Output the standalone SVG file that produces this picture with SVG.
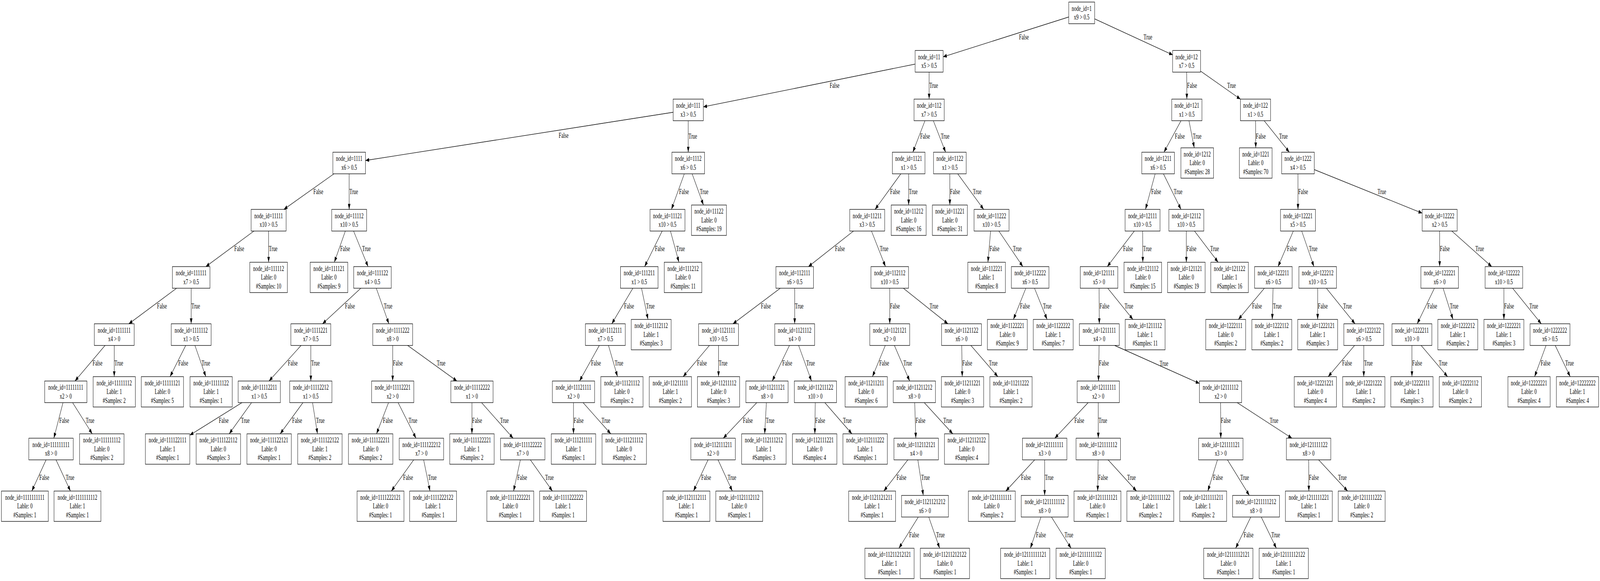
<svg xmlns="http://www.w3.org/2000/svg" width="6177" height="1488" viewBox="0 0 6177 1488" preserveAspectRatio="none">
<defs>
<marker id="ah" viewBox="0 0 14 10" refX="14" refY="5" markerWidth="14" markerHeight="10" markerUnits="userSpaceOnUse" orient="auto"><path d="M0,0L14,5L0,10z" fill="#000"/></marker>
</defs>
<style>
svg{width:100vw;height:100vh}
text{font-family:"Liberation Serif","Times New Roman",serif;font-size:18px;fill:#000}
.n rect{fill:#fff;stroke:#000;stroke-width:1.33}
.n text{text-anchor:middle}
#edges line{stroke:#000;stroke-width:1.33;marker-end:url(#ah)}
</style>
<rect x="0" y="0" width="6177" height="1488" fill="#fff"/>
<g id="edges">
<line x1="4176" y1="33" x2="3641" y2="145.6"/><text x="3934" y="101">False</text>
<line x1="4176" y1="33" x2="4527.5" y2="140.6"/><text x="4415" y="101">True</text>
<line x1="3587" y1="157" x2="2715.3" y2="273.7"/><text x="3203" y="225.3">False</text>
<line x1="3587" y1="157" x2="3587" y2="253.8"/><text x="3588" y="225.3">True</text>
<line x1="4581" y1="157" x2="4582" y2="253.8"/><text x="4583" y="225.3">False</text>
<line x1="4581" y1="157" x2="4789" y2="254"/><text x="4738" y="225.3">True</text>
<line x1="2657" y1="281.5" x2="1411" y2="411"/><text x="2157" y="353">False</text>
<line x1="2657" y1="281.5" x2="2657" y2="389.8"/><text x="2658" y="355.5">True</text>
<line x1="3587" y1="281.5" x2="3524.1" y2="389.8"/><text x="3552.5" y="355.5">False</text>
<line x1="3587" y1="281.5" x2="3650.7" y2="389.8"/><text x="3632" y="355.5">True</text>
<line x1="4582" y1="281.5" x2="4493.6" y2="389.8"/><text x="4536" y="355.5">False</text>
<line x1="4582" y1="281.5" x2="4610.6" y2="378.6"/><text x="4605" y="355.5">True</text>
<line x1="4847" y1="281.5" x2="4848" y2="378.6"/><text x="4848.5" y="355.5">False</text>
<line x1="4847" y1="281.5" x2="4977.6" y2="389.8"/><text x="4938" y="355.5">True</text>
<line x1="1348" y1="417.5" x2="1095.8" y2="536.3"/><text x="1210" y="496.8">False</text>
<line x1="1348" y1="417.5" x2="1348" y2="536.3"/><text x="1349" y="496.8">True</text>
<line x1="2657" y1="417.5" x2="2592.1" y2="536.3"/><text x="2621.6" y="496.8">False</text>
<line x1="2657" y1="417.5" x2="2715.8" y2="525.1"/><text x="2701.6" y="496.8">True</text>
<line x1="3508" y1="417.5" x2="3378.3" y2="536.3"/><text x="3436.6" y="496.8">False</text>
<line x1="3508" y1="417.5" x2="3508" y2="525.1"/><text x="3509" y="496.8">True</text>
<line x1="3667" y1="417.5" x2="3667" y2="525.1"/><text x="3668" y="496.8">False</text>
<line x1="3667" y1="417.5" x2="3797.6" y2="536.3"/><text x="3756" y="496.8">True</text>
<line x1="4471" y1="417.5" x2="4422.3" y2="536.3"/><text x="4444.6" y="496.8">False</text>
<line x1="4471" y1="417.5" x2="4559.4" y2="536.3"/><text x="4531.5" y="496.8">True</text>
<line x1="5011" y1="417.5" x2="5011" y2="536.3"/><text x="5012" y="496.8">False</text>
<line x1="5011" y1="417.5" x2="5490.5" y2="545.9"/><text x="5318" y="496.8">True</text>
<line x1="1037" y1="564" x2="794.5" y2="682.8"/><text x="904.5" y="643.3">False</text>
<line x1="1037" y1="564" x2="1037" y2="671.6"/><text x="1038" y="643.3">True</text>
<line x1="1348" y1="564" x2="1290.7" y2="671.6"/><text x="1313.5" y="643.3">False</text>
<line x1="1348" y1="564" x2="1421" y2="682.8"/><text x="1398" y="643.3">True</text>
<line x1="2577" y1="564" x2="2488.6" y2="682.8"/><text x="2528.5" y="643.3">False</text>
<line x1="2577" y1="564" x2="2621.1" y2="671.6"/><text x="2610.6" y="643.3">True</text>
<line x1="3348" y1="564" x2="3120.9" y2="682.8"/><text x="3223.8" y="643.3">False</text>
<line x1="3348" y1="564" x2="3418.5" y2="682.8"/><text x="3396.4" y="643.3">True</text>
<line x1="3828" y1="564" x2="3814" y2="671.6"/><text x="3820.3" y="643.3">False</text>
<line x1="3828" y1="564" x2="3948.8" y2="682.8"/><text x="3910.5" y="643.3">True</text>
<line x1="4411" y1="564" x2="4274.8" y2="682.8"/><text x="4336" y="643.3">False</text>
<line x1="4411" y1="564" x2="4412" y2="671.6"/><text x="4413" y="643.3">True</text>
<line x1="4580" y1="564" x2="4580" y2="671.6"/><text x="4581" y="643.3">False</text>
<line x1="4580" y1="564" x2="4702.7" y2="671.6"/><text x="4672.5" y="643.3">True</text>
<line x1="5011" y1="564" x2="4934" y2="682.8"/><text x="4968.8" y="643.3">False</text>
<line x1="5011" y1="564" x2="5072.6" y2="682.8"/><text x="5053" y="643.3">True</text>
<line x1="5558" y1="564" x2="5558" y2="682.8"/><text x="5559" y="643.3">False</text>
<line x1="5558" y1="564" x2="5759.1" y2="682.8"/><text x="5695.8" y="643.3">True</text>
<line x1="738" y1="710.5" x2="497.2" y2="829.3"/><text x="606.4" y="789.8">False</text>
<line x1="738" y1="710.5" x2="738" y2="829.3"/><text x="739" y="789.8">True</text>
<line x1="1438" y1="710.5" x2="1245" y2="829.3"/><text x="1332" y="789.8">False</text>
<line x1="1438" y1="710.5" x2="1501.3" y2="829.3"/><text x="1481.5" y="789.8">True</text>
<line x1="2468" y1="710.5" x2="2361.8" y2="829.3"/><text x="2409.6" y="789.8">False</text>
<line x1="2468" y1="710.5" x2="2501.8" y2="818.1"/><text x="2494" y="789.8">True</text>
<line x1="3068" y1="710.5" x2="2829.6" y2="829.3"/><text x="2937.7" y="789.8">False</text>
<line x1="3068" y1="710.5" x2="3068" y2="829.3"/><text x="3069" y="789.8">True</text>
<line x1="3435" y1="710.5" x2="3435" y2="829.3"/><text x="3436" y="789.8">False</text>
<line x1="3435" y1="710.5" x2="3659.6" y2="829.3"/><text x="3589" y="789.8">True</text>
<line x1="3977" y1="710.5" x2="3912.4" y2="818.1"/><text x="3938" y="789.8">False</text>
<line x1="3977" y1="710.5" x2="4042.4" y2="818.1"/><text x="4026.5" y="789.8">True</text>
<line x1="4243" y1="710.5" x2="4244" y2="829.3"/><text x="4245" y="789.8">False</text>
<line x1="4243" y1="710.5" x2="4373.7" y2="818.1"/><text x="4341.6" y="789.8">True</text>
<line x1="4916" y1="710.5" x2="4780.9" y2="818.1"/><text x="4834" y="789.8">False</text>
<line x1="4916" y1="710.5" x2="4911.6" y2="818.1"/><text x="4914.5" y="789.8">True</text>
<line x1="5087" y1="710.5" x2="5087" y2="818.1"/><text x="5088" y="789.8">False</text>
<line x1="5087" y1="710.5" x2="5231.3" y2="829.3"/><text x="5185.6" y="789.8">True</text>
<line x1="5558" y1="710.5" x2="5471.2" y2="829.3"/><text x="5510.4" y="789.8">False</text>
<line x1="5558" y1="710.5" x2="5609.4" y2="818.1"/><text x="5597" y="789.8">True</text>
<line x1="5806" y1="710.5" x2="5806" y2="818.1"/><text x="5807" y="789.8">False</text>
<line x1="5806" y1="710.5" x2="5950.3" y2="829.3"/><text x="5904.6" y="789.8">True</text>
<line x1="441" y1="857" x2="289.4" y2="975.8"/><text x="357.6" y="936.3">False</text>
<line x1="441" y1="857" x2="441" y2="964.6"/><text x="442" y="936.3">True</text>
<line x1="738" y1="857" x2="656.5" y2="964.6"/><text x="688.6" y="936.3">False</text>
<line x1="738" y1="857" x2="794.6" y2="964.6"/><text x="778" y="936.3">True</text>
<line x1="1200" y1="857" x2="1038.6" y2="975.8"/><text x="1111.3" y="936.3">False</text>
<line x1="1200" y1="857" x2="1200" y2="975.8"/><text x="1201" y="936.3">True</text>
<line x1="1516" y1="857" x2="1516" y2="975.8"/><text x="1517" y="936.3">False</text>
<line x1="1516" y1="857" x2="1764.1" y2="975.8"/><text x="1686.4" y="936.3">True</text>
<line x1="2337" y1="857" x2="2237.3" y2="975.8"/><text x="2282" y="936.3">False</text>
<line x1="2337" y1="857" x2="2384" y2="964.6"/><text x="2372.8" y="936.3">True</text>
<line x1="2774" y1="857" x2="2637.4" y2="964.6"/><text x="2691" y="936.3">False</text>
<line x1="2774" y1="857" x2="2774" y2="964.6"/><text x="2775" y="936.3">True</text>
<line x1="3068" y1="857" x2="2981.2" y2="975.8"/><text x="3020.4" y="936.3">False</text>
<line x1="3068" y1="857" x2="3132.9" y2="975.8"/><text x="3112.6" y="936.3">True</text>
<line x1="3435" y1="857" x2="3368.2" y2="964.6"/><text x="3394.6" y="936.3">False</text>
<line x1="3435" y1="857" x2="3512" y2="975.8"/><text x="3487.8" y="936.3">True</text>
<line x1="3712" y1="857" x2="3714.9" y2="964.6"/><text x="3715.2" y="936.3">False</text>
<line x1="3712" y1="857" x2="3852.3" y2="964.6"/><text x="3817.8" y="936.3">True</text>
<line x1="4244" y1="857" x2="4240.8" y2="975.8"/><text x="4243" y="936.3">False</text>
<line x1="4304" y1="885" x2="4630.5" y2="982"/><text x="4477" y="937">True</text>
<line x1="5265" y1="857" x2="5127.6" y2="964.6"/><text x="5181.6" y="936.3">False</text>
<line x1="5265" y1="857" x2="5265" y2="964.6"/><text x="5266" y="936.3">True</text>
<line x1="5451" y1="857" x2="5451" y2="964.6"/><text x="5452" y="936.3">False</text>
<line x1="5451" y1="857" x2="5588.4" y2="964.6"/><text x="5554.6" y="936.3">True</text>
<line x1="5984" y1="857" x2="5924.5" y2="964.6"/><text x="5948" y="936.3">False</text>
<line x1="5984" y1="857" x2="6061.9" y2="964.6"/><text x="6042.8" y="936.3">True</text>
<line x1="254" y1="1003.5" x2="207.8" y2="1122.3"/><text x="229" y="1082.8">False</text>
<line x1="254" y1="1003.5" x2="356.1" y2="1111.1"/><text x="331" y="1082.8">True</text>
<line x1="1001" y1="1003.5" x2="732.8" y2="1114.5"/><text x="844.8" y="1082.8">False</text>
<line x1="1001" y1="1003.5" x2="884.9" y2="1111.1"/><text x="930.5" y="1082.8">True</text>
<line x1="1200" y1="1003.5" x2="1081.7" y2="1111.1"/><text x="1128.2" y="1082.8">False</text>
<line x1="1200" y1="1003.5" x2="1225.7" y2="1111.1"/><text x="1220" y="1082.8">True</text>
<line x1="1516" y1="1003.5" x2="1453.6" y2="1111.1"/><text x="1478.3" y="1082.8">False</text>
<line x1="1516" y1="1003.5" x2="1606" y2="1122.3"/><text x="1577.6" y="1082.8">True</text>
<line x1="1822" y1="1003.5" x2="1822" y2="1111.1"/><text x="1823" y="1082.8">False</text>
<line x1="1822" y1="1003.5" x2="1980.9" y2="1122.3"/><text x="1930.6" y="1082.8">True</text>
<line x1="2214" y1="1003.5" x2="2214" y2="1111.1"/><text x="2215" y="1082.8">False</text>
<line x1="2214" y1="1003.5" x2="2358" y2="1111.1"/><text x="2322.6" y="1082.8">True</text>
<line x1="2961" y1="1003.5" x2="2792.3" y2="1122.3"/><text x="2868.3" y="1082.8">False</text>
<line x1="2961" y1="1003.5" x2="2952.2" y2="1111.1"/><text x="2956.6" y="1082.8">True</text>
<line x1="3148" y1="1003.5" x2="3145.8" y2="1111.1"/><text x="3147.5" y="1082.8">False</text>
<line x1="3148" y1="1003.5" x2="3289" y2="1111.1"/><text x="3254.4" y="1082.8">True</text>
<line x1="3530" y1="1003.5" x2="3535.7" y2="1122.3"/><text x="3534.8" y="1082.8">False</text>
<line x1="3530" y1="1003.5" x2="3678.4" y2="1111.1"/><text x="3642" y="1082.8">True</text>
<line x1="4240" y1="1003.5" x2="4072.1" y2="1122.3"/><text x="4147.8" y="1082.8">False</text>
<line x1="4240" y1="1003.5" x2="4240" y2="1122.3"/><text x="4241" y="1082.8">True</text>
<line x1="4712" y1="1003.5" x2="4713" y2="1122.3"/><text x="4713.5" y="1082.8">False</text>
<line x1="4712" y1="1003.5" x2="4987.7" y2="1122.3"/><text x="4901.8" y="1082.8">True</text>
<line x1="197" y1="1150" x2="122.8" y2="1257.6"/><text x="152" y="1229.3">False</text>
<line x1="197" y1="1150" x2="271.9" y2="1257.6"/><text x="253.6" y="1229.3">True</text>
<line x1="1627" y1="1150" x2="1510.9" y2="1257.6"/><text x="1556.5" y="1229.3">False</text>
<line x1="1627" y1="1150" x2="1660.1" y2="1257.6"/><text x="1652.4" y="1229.3">True</text>
<line x1="2018" y1="1150" x2="1982.7" y2="1257.6"/><text x="1997" y="1229.3">False</text>
<line x1="2018" y1="1150" x2="2132.6" y2="1257.6"/><text x="2104.4" y="1229.3">True</text>
<line x1="2753" y1="1150" x2="2677.3" y2="1257.6"/><text x="2707.2" y="1229.3">False</text>
<line x1="2753" y1="1150" x2="2827.2" y2="1257.6"/><text x="2809" y="1229.3">True</text>
<line x1="3537" y1="1150" x2="3412.1" y2="1257.6"/><text x="3461.2" y="1229.3">False</text>
<line x1="3537" y1="1150" x2="3564.6" y2="1268.8"/><text x="3556.4" y="1229.3">True</text>
<line x1="4033" y1="1150" x2="3883.2" y2="1257.6"/><text x="3942" y="1229.3">False</text>
<line x1="4033" y1="1150" x2="4033" y2="1268.8"/><text x="4034" y="1229.3">True</text>
<line x1="4240" y1="1150" x2="4237.8" y2="1257.6"/><text x="4239.5" y="1229.3">False</text>
<line x1="4240" y1="1150" x2="4387.6" y2="1257.6"/><text x="4351.5" y="1229.3">True</text>
<line x1="4713" y1="1150" x2="4663.1" y2="1257.6"/><text x="4683" y="1229.3">False</text>
<line x1="4713" y1="1150" x2="4823.3" y2="1268.8"/><text x="4788.3" y="1229.3">True</text>
<line x1="5052" y1="1150" x2="5053" y2="1257.6"/><text x="5053.5" y="1229.3">False</text>
<line x1="5052" y1="1150" x2="5202.6" y2="1257.6"/><text x="5165.7" y="1229.3">True</text>
<line x1="3571" y1="1296.5" x2="3470.4" y2="1404.1"/><text x="3510" y="1375.8">False</text>
<line x1="3571" y1="1296.5" x2="3627.6" y2="1404.1"/><text x="3614" y="1375.8">True</text>
<line x1="4033" y1="1296.5" x2="3977.9" y2="1404.1"/><text x="3999.8" y="1375.8">False</text>
<line x1="4033" y1="1296.5" x2="4135.1" y2="1404.1"/><text x="4110" y="1375.8">True</text>
<line x1="4849" y1="1296.5" x2="4770.4" y2="1404.1"/><text x="4801.4" y="1375.8">False</text>
<line x1="4849" y1="1296.5" x2="4927.6" y2="1404.1"/><text x="4908.4" y="1375.8">True</text>
</g>
<g id="nodes" class="n">
<g id="node-1"><rect x="4126" y="5.3" width="100" height="55.4"/><text x="4176" y="28">node_id=1<tspan x="4176" dy="22.3">x9 &gt; 0.5</tspan></text></g>
<g id="node-11"><rect x="3533" y="129.3" width="108" height="55.4"/><text x="3587" y="152">node_id=11<tspan x="3587" dy="22.3">x5 &gt; 0.5</tspan></text></g>
<g id="node-12"><rect x="4527" y="129.3" width="108" height="55.4"/><text x="4581" y="152">node_id=12<tspan x="4581" dy="22.3">x7 &gt; 0.5</tspan></text></g>
<g id="node-111"><rect x="2598.75" y="253.8" width="116.5" height="55.4"/><text x="2657" y="276.5">node_id=111<tspan x="2657" dy="22.3">x3 &gt; 0.5</tspan></text></g>
<g id="node-112"><rect x="3528.75" y="253.8" width="116.5" height="55.4"/><text x="3587" y="276.5">node_id=112<tspan x="3587" dy="22.3">x7 &gt; 0.5</tspan></text></g>
<g id="node-121"><rect x="4523.75" y="253.8" width="116.5" height="55.4"/><text x="4582" y="276.5">node_id=121<tspan x="4582" dy="22.3">x1 &gt; 0.5</tspan></text></g>
<g id="node-122"><rect x="4788.75" y="253.8" width="116.5" height="55.4"/><text x="4847" y="276.5">node_id=122<tspan x="4847" dy="22.3">x1 &gt; 0.5</tspan></text></g>
<g id="node-1111"><rect x="1285" y="389.8" width="126" height="55.4"/><text x="1348" y="412.5">node_id=1111<tspan x="1348" dy="22.3">x6 &gt; 0.5</tspan></text></g>
<g id="node-1112"><rect x="2594" y="389.8" width="126" height="55.4"/><text x="2657" y="412.5">node_id=1112<tspan x="2657" dy="22.3">x6 &gt; 0.5</tspan></text></g>
<g id="node-1121"><rect x="3445" y="389.8" width="126" height="55.4"/><text x="3508" y="412.5">node_id=1121<tspan x="3508" dy="22.3">x1 &gt; 0.5</tspan></text></g>
<g id="node-1122"><rect x="3604" y="389.8" width="126" height="55.4"/><text x="3667" y="412.5">node_id=1122<tspan x="3667" dy="22.3">x1 &gt; 0.5</tspan></text></g>
<g id="node-1211"><rect x="4408" y="389.8" width="126" height="55.4"/><text x="4471" y="412.5">node_id=1211<tspan x="4471" dy="22.3">x6 &gt; 0.5</tspan></text></g>
<g id="node-1212"><rect x="4559" y="378.6" width="126" height="77.8"/><text x="4622" y="401">node_id=1212<tspan x="4622" dy="22.4">Lable: 0</tspan><tspan x="4622" dy="22.4">#Samples: 28</tspan></text></g>
<g id="node-1221"><rect x="4785" y="378.6" width="126" height="77.8"/><text x="4848" y="401">node_id=1221<tspan x="4848" dy="22.4">Lable: 0</tspan><tspan x="4848" dy="22.4">#Samples: 70</tspan></text></g>
<g id="node-1222"><rect x="4948" y="389.8" width="126" height="55.4"/><text x="5011" y="412.5">node_id=1222<tspan x="5011" dy="22.3">x4 &gt; 0.5</tspan></text></g>
<g id="node-11111"><rect x="969.5" y="536.3" width="135" height="55.4"/><text x="1037" y="559">node_id=11111<tspan x="1037" dy="22.3">x10 &gt; 0.5</tspan></text></g>
<g id="node-11112"><rect x="1280.5" y="536.3" width="135" height="55.4"/><text x="1348" y="559">node_id=11112<tspan x="1348" dy="22.3">x10 &gt; 0.5</tspan></text></g>
<g id="node-11121"><rect x="2509.5" y="536.3" width="135" height="55.4"/><text x="2577" y="559">node_id=11121<tspan x="2577" dy="22.3">x10 &gt; 0.5</tspan></text></g>
<g id="node-11122"><rect x="2669.5" y="525.1" width="135" height="77.8"/><text x="2737" y="547.5">node_id=11122<tspan x="2737" dy="22.4">Lable: 0</tspan><tspan x="2737" dy="22.4">#Samples: 19</tspan></text></g>
<g id="node-11211"><rect x="3280.5" y="536.3" width="135" height="55.4"/><text x="3348" y="559">node_id=11211<tspan x="3348" dy="22.3">x3 &gt; 0.5</tspan></text></g>
<g id="node-11212"><rect x="3440.5" y="525.1" width="135" height="77.8"/><text x="3508" y="547.5">node_id=11212<tspan x="3508" dy="22.4">Lable: 0</tspan><tspan x="3508" dy="22.4">#Samples: 16</tspan></text></g>
<g id="node-11221"><rect x="3599.5" y="525.1" width="135" height="77.8"/><text x="3667" y="547.5">node_id=11221<tspan x="3667" dy="22.4">Lable: 0</tspan><tspan x="3667" dy="22.4">#Samples: 31</tspan></text></g>
<g id="node-11222"><rect x="3760.5" y="536.3" width="135" height="55.4"/><text x="3828" y="559">node_id=11222<tspan x="3828" dy="22.3">x10 &gt; 0.5</tspan></text></g>
<g id="node-12111"><rect x="4343.5" y="536.3" width="135" height="55.4"/><text x="4411" y="559">node_id=12111<tspan x="4411" dy="22.3">x10 &gt; 0.5</tspan></text></g>
<g id="node-12112"><rect x="4512.5" y="536.3" width="135" height="55.4"/><text x="4580" y="559">node_id=12112<tspan x="4580" dy="22.3">x10 &gt; 0.5</tspan></text></g>
<g id="node-12221"><rect x="4943.5" y="536.3" width="135" height="55.4"/><text x="5011" y="559">node_id=12221<tspan x="5011" dy="22.3">x5 &gt; 0.5</tspan></text></g>
<g id="node-12222"><rect x="5490.5" y="536.3" width="135" height="55.4"/><text x="5558" y="559">node_id=12222<tspan x="5558" dy="22.3">x2 &gt; 0.5</tspan></text></g>
<g id="node-111111"><rect x="665.5" y="682.8" width="145" height="55.4"/><text x="738" y="705.5">node_id=111111<tspan x="738" dy="22.3">x7 &gt; 0.5</tspan></text></g>
<g id="node-111112"><rect x="964.5" y="671.6" width="145" height="77.8"/><text x="1037" y="694">node_id=111112<tspan x="1037" dy="22.4">Lable: 0</tspan><tspan x="1037" dy="22.4">#Samples: 10</tspan></text></g>
<g id="node-111121"><rect x="1197.5" y="671.6" width="145" height="77.8"/><text x="1270" y="694">node_id=111121<tspan x="1270" dy="22.4">Lable: 0</tspan><tspan x="1270" dy="22.4">#Samples: 9</tspan></text></g>
<g id="node-111122"><rect x="1365.5" y="682.8" width="145" height="55.4"/><text x="1438" y="705.5">node_id=111122<tspan x="1438" dy="22.3">x4 &gt; 0.5</tspan></text></g>
<g id="node-111211"><rect x="2395.5" y="682.8" width="145" height="55.4"/><text x="2468" y="705.5">node_id=111211<tspan x="2468" dy="22.3">x1 &gt; 0.5</tspan></text></g>
<g id="node-111212"><rect x="2564.5" y="671.6" width="145" height="77.8"/><text x="2637" y="694">node_id=111212<tspan x="2637" dy="22.4">Lable: 0</tspan><tspan x="2637" dy="22.4">#Samples: 11</tspan></text></g>
<g id="node-112111"><rect x="2995.5" y="682.8" width="145" height="55.4"/><text x="3068" y="705.5">node_id=112111<tspan x="3068" dy="22.3">x6 &gt; 0.5</tspan></text></g>
<g id="node-112112"><rect x="3362.5" y="682.8" width="145" height="55.4"/><text x="3435" y="705.5">node_id=112112<tspan x="3435" dy="22.3">x10 &gt; 0.5</tspan></text></g>
<g id="node-112221"><rect x="3736.5" y="671.6" width="145" height="77.8"/><text x="3809" y="694">node_id=112221<tspan x="3809" dy="22.4">Lable: 1</tspan><tspan x="3809" dy="22.4">#Samples: 8</tspan></text></g>
<g id="node-112222"><rect x="3904.5" y="682.8" width="145" height="55.4"/><text x="3977" y="705.5">node_id=112222<tspan x="3977" dy="22.3">x6 &gt; 0.5</tspan></text></g>
<g id="node-121111"><rect x="4170.5" y="682.8" width="145" height="55.4"/><text x="4243" y="705.5">node_id=121111<tspan x="4243" dy="22.3">x5 &gt; 0</tspan></text></g>
<g id="node-121112"><rect x="4339.5" y="671.6" width="145" height="77.8"/><text x="4412" y="694">node_id=121112<tspan x="4412" dy="22.4">Lable: 0</tspan><tspan x="4412" dy="22.4">#Samples: 15</tspan></text></g>
<g id="node-121121"><rect x="4507.5" y="671.6" width="145" height="77.8"/><text x="4580" y="694">node_id=121121<tspan x="4580" dy="22.4">Lable: 0</tspan><tspan x="4580" dy="22.4">#Samples: 19</tspan></text></g>
<g id="node-121122"><rect x="4674.5" y="671.6" width="145" height="77.8"/><text x="4747" y="694">node_id=121122<tspan x="4747" dy="22.4">Lable: 1</tspan><tspan x="4747" dy="22.4">#Samples: 16</tspan></text></g>
<g id="node-122211"><rect x="4843.5" y="682.8" width="145" height="55.4"/><text x="4916" y="705.5">node_id=122211<tspan x="4916" dy="22.3">x6 &gt; 0.5</tspan></text></g>
<g id="node-122212"><rect x="5014.5" y="682.8" width="145" height="55.4"/><text x="5087" y="705.5">node_id=122212<tspan x="5087" dy="22.3">x10 &gt; 0.5</tspan></text></g>
<g id="node-122221"><rect x="5485.5" y="682.8" width="145" height="55.4"/><text x="5558" y="705.5">node_id=122221<tspan x="5558" dy="22.3">x6 &gt; 0</tspan></text></g>
<g id="node-122222"><rect x="5733.5" y="682.8" width="145" height="55.4"/><text x="5806" y="705.5">node_id=122222<tspan x="5806" dy="22.3">x10 &gt; 0.5</tspan></text></g>
<g id="node-1111111"><rect x="364" y="829.3" width="154" height="55.4"/><text x="441" y="852">node_id=1111111<tspan x="441" dy="22.3">x4 &gt; 0</tspan></text></g>
<g id="node-1111112"><rect x="661" y="829.3" width="154" height="55.4"/><text x="738" y="852">node_id=1111112<tspan x="738" dy="22.3">x1 &gt; 0.5</tspan></text></g>
<g id="node-1111221"><rect x="1123" y="829.3" width="154" height="55.4"/><text x="1200" y="852">node_id=1111221<tspan x="1200" dy="22.3">x7 &gt; 0.5</tspan></text></g>
<g id="node-1111222"><rect x="1439" y="829.3" width="154" height="55.4"/><text x="1516" y="852">node_id=1111222<tspan x="1516" dy="22.3">x8 &gt; 0</tspan></text></g>
<g id="node-1112111"><rect x="2260" y="829.3" width="154" height="55.4"/><text x="2337" y="852">node_id=1112111<tspan x="2337" dy="22.3">x7 &gt; 0.5</tspan></text></g>
<g id="node-1112112"><rect x="2437" y="818.1" width="154" height="77.8"/><text x="2514" y="840.5">node_id=1112112<tspan x="2514" dy="22.4">Lable: 1</tspan><tspan x="2514" dy="22.4">#Samples: 3</tspan></text></g>
<g id="node-1121111"><rect x="2697" y="829.3" width="154" height="55.4"/><text x="2774" y="852">node_id=1121111<tspan x="2774" dy="22.3">x10 &gt; 0.5</tspan></text></g>
<g id="node-1121112"><rect x="2991" y="829.3" width="154" height="55.4"/><text x="3068" y="852">node_id=1121112<tspan x="3068" dy="22.3">x4 &gt; 0</tspan></text></g>
<g id="node-1121121"><rect x="3358" y="829.3" width="154" height="55.4"/><text x="3435" y="852">node_id=1121121<tspan x="3435" dy="22.3">x2 &gt; 0</tspan></text></g>
<g id="node-1121122"><rect x="3635" y="829.3" width="154" height="55.4"/><text x="3712" y="852">node_id=1121122<tspan x="3712" dy="22.3">x6 &gt; 0</tspan></text></g>
<g id="node-1122221"><rect x="3812" y="818.1" width="154" height="77.8"/><text x="3889" y="840.5">node_id=1122221<tspan x="3889" dy="22.4">Lable: 0</tspan><tspan x="3889" dy="22.4">#Samples: 9</tspan></text></g>
<g id="node-1122222"><rect x="3989" y="818.1" width="154" height="77.8"/><text x="4066" y="840.5">node_id=1122222<tspan x="4066" dy="22.4">Lable: 1</tspan><tspan x="4066" dy="22.4">#Samples: 7</tspan></text></g>
<g id="node-1211111"><rect x="4167" y="829.3" width="154" height="55.4"/><text x="4244" y="852">node_id=1211111<tspan x="4244" dy="22.3">x4 &gt; 0</tspan></text></g>
<g id="node-1211112"><rect x="4344" y="818.1" width="154" height="77.8"/><text x="4421" y="840.5">node_id=1211112<tspan x="4421" dy="22.4">Lable: 1</tspan><tspan x="4421" dy="22.4">#Samples: 11</tspan></text></g>
<g id="node-1222111"><rect x="4655" y="818.1" width="154" height="77.8"/><text x="4732" y="840.5">node_id=1222111<tspan x="4732" dy="22.4">Lable: 0</tspan><tspan x="4732" dy="22.4">#Samples: 2</tspan></text></g>
<g id="node-1222112"><rect x="4833" y="818.1" width="154" height="77.8"/><text x="4910" y="840.5">node_id=1222112<tspan x="4910" dy="22.4">Lable: 1</tspan><tspan x="4910" dy="22.4">#Samples: 2</tspan></text></g>
<g id="node-1222121"><rect x="5010" y="818.1" width="154" height="77.8"/><text x="5087" y="840.5">node_id=1222121<tspan x="5087" dy="22.4">Lable: 1</tspan><tspan x="5087" dy="22.4">#Samples: 3</tspan></text></g>
<g id="node-1222122"><rect x="5188" y="829.3" width="154" height="55.4"/><text x="5265" y="852">node_id=1222122<tspan x="5265" dy="22.3">x6 &gt; 0.5</tspan></text></g>
<g id="node-1222211"><rect x="5374" y="829.3" width="154" height="55.4"/><text x="5451" y="852">node_id=1222211<tspan x="5451" dy="22.3">x10 &gt; 0</tspan></text></g>
<g id="node-1222212"><rect x="5551" y="818.1" width="154" height="77.8"/><text x="5628" y="840.5">node_id=1222212<tspan x="5628" dy="22.4">Lable: 1</tspan><tspan x="5628" dy="22.4">#Samples: 2</tspan></text></g>
<g id="node-1222221"><rect x="5729" y="818.1" width="154" height="77.8"/><text x="5806" y="840.5">node_id=1222221<tspan x="5806" dy="22.4">Lable: 1</tspan><tspan x="5806" dy="22.4">#Samples: 3</tspan></text></g>
<g id="node-1222222"><rect x="5907" y="829.3" width="154" height="55.4"/><text x="5984" y="852">node_id=1222222<tspan x="5984" dy="22.3">x6 &gt; 0.5</tspan></text></g>
<g id="node-11111111"><rect x="172.5" y="975.8" width="163" height="55.4"/><text x="254" y="998.5">node_id=11111111<tspan x="254" dy="22.3">x2 &gt; 0</tspan></text></g>
<g id="node-11111112"><rect x="359.5" y="964.6" width="163" height="77.8"/><text x="441" y="987">node_id=11111112<tspan x="441" dy="22.4">Lable: 1</tspan><tspan x="441" dy="22.4">#Samples: 2</tspan></text></g>
<g id="node-11111121"><rect x="545.5" y="964.6" width="163" height="77.8"/><text x="627" y="987">node_id=11111121<tspan x="627" dy="22.4">Lable: 0</tspan><tspan x="627" dy="22.4">#Samples: 5</tspan></text></g>
<g id="node-11111122"><rect x="733.5" y="964.6" width="163" height="77.8"/><text x="815" y="987">node_id=11111122<tspan x="815" dy="22.4">Lable: 1</tspan><tspan x="815" dy="22.4">#Samples: 1</tspan></text></g>
<g id="node-11112211"><rect x="919.5" y="975.8" width="163" height="55.4"/><text x="1001" y="998.5">node_id=11112211<tspan x="1001" dy="22.3">x1 &gt; 0.5</tspan></text></g>
<g id="node-11112212"><rect x="1118.5" y="975.8" width="163" height="55.4"/><text x="1200" y="998.5">node_id=11112212<tspan x="1200" dy="22.3">x1 &gt; 0.5</tspan></text></g>
<g id="node-11112221"><rect x="1434.5" y="975.8" width="163" height="55.4"/><text x="1516" y="998.5">node_id=11112221<tspan x="1516" dy="22.3">x2 &gt; 0</tspan></text></g>
<g id="node-11112222"><rect x="1740.5" y="975.8" width="163" height="55.4"/><text x="1822" y="998.5">node_id=11112222<tspan x="1822" dy="22.3">x1 &gt; 0</tspan></text></g>
<g id="node-11121111"><rect x="2132.5" y="975.8" width="163" height="55.4"/><text x="2214" y="998.5">node_id=11121111<tspan x="2214" dy="22.3">x2 &gt; 0</tspan></text></g>
<g id="node-11121112"><rect x="2319.5" y="964.6" width="163" height="77.8"/><text x="2401" y="987">node_id=11121112<tspan x="2401" dy="22.4">Lable: 0</tspan><tspan x="2401" dy="22.4">#Samples: 2</tspan></text></g>
<g id="node-11211111"><rect x="2506.5" y="964.6" width="163" height="77.8"/><text x="2588" y="987">node_id=11211111<tspan x="2588" dy="22.4">Lable: 1</tspan><tspan x="2588" dy="22.4">#Samples: 2</tspan></text></g>
<g id="node-11211112"><rect x="2692.5" y="964.6" width="163" height="77.8"/><text x="2774" y="987">node_id=11211112<tspan x="2774" dy="22.4">Lable: 0</tspan><tspan x="2774" dy="22.4">#Samples: 3</tspan></text></g>
<g id="node-11211121"><rect x="2879.5" y="975.8" width="163" height="55.4"/><text x="2961" y="998.5">node_id=11211121<tspan x="2961" dy="22.3">x8 &gt; 0</tspan></text></g>
<g id="node-11211122"><rect x="3066.5" y="975.8" width="163" height="55.4"/><text x="3148" y="998.5">node_id=11211122<tspan x="3148" dy="22.3">x10 &gt; 0</tspan></text></g>
<g id="node-11211211"><rect x="3262.5" y="964.6" width="163" height="77.8"/><text x="3344" y="987">node_id=11211211<tspan x="3344" dy="22.4">Lable: 0</tspan><tspan x="3344" dy="22.4">#Samples: 6</tspan></text></g>
<g id="node-11211212"><rect x="3448.5" y="975.8" width="163" height="55.4"/><text x="3530" y="998.5">node_id=11211212<tspan x="3530" dy="22.3">x8 &gt; 0</tspan></text></g>
<g id="node-11211221"><rect x="3634.5" y="964.6" width="163" height="77.8"/><text x="3716" y="987">node_id=11211221<tspan x="3716" dy="22.4">Lable: 0</tspan><tspan x="3716" dy="22.4">#Samples: 3</tspan></text></g>
<g id="node-11211222"><rect x="3821.5" y="964.6" width="163" height="77.8"/><text x="3903" y="987">node_id=11211222<tspan x="3903" dy="22.4">Lable: 1</tspan><tspan x="3903" dy="22.4">#Samples: 2</tspan></text></g>
<g id="node-12111111"><rect x="4158.5" y="975.8" width="163" height="55.4"/><text x="4240" y="998.5">node_id=12111111<tspan x="4240" dy="22.3">x2 &gt; 0</tspan></text></g>
<g id="node-12111112"><rect x="4630.5" y="975.8" width="163" height="55.4"/><text x="4712" y="998.5">node_id=12111112<tspan x="4712" dy="22.3">x2 &gt; 0</tspan></text></g>
<g id="node-12221221"><rect x="4996.5" y="964.6" width="163" height="77.8"/><text x="5078" y="987">node_id=12221221<tspan x="5078" dy="22.4">Lable: 0</tspan><tspan x="5078" dy="22.4">#Samples: 4</tspan></text></g>
<g id="node-12221222"><rect x="5183.5" y="964.6" width="163" height="77.8"/><text x="5265" y="987">node_id=12221222<tspan x="5265" dy="22.4">Lable: 1</tspan><tspan x="5265" dy="22.4">#Samples: 2</tspan></text></g>
<g id="node-12222111"><rect x="5369.5" y="964.6" width="163" height="77.8"/><text x="5451" y="987">node_id=12222111<tspan x="5451" dy="22.4">Lable: 1</tspan><tspan x="5451" dy="22.4">#Samples: 3</tspan></text></g>
<g id="node-12222112"><rect x="5556.5" y="964.6" width="163" height="77.8"/><text x="5638" y="987">node_id=12222112<tspan x="5638" dy="22.4">Lable: 0</tspan><tspan x="5638" dy="22.4">#Samples: 2</tspan></text></g>
<g id="node-12222221"><rect x="5821.5" y="964.6" width="163" height="77.8"/><text x="5903" y="987">node_id=12222221<tspan x="5903" dy="22.4">Lable: 0</tspan><tspan x="5903" dy="22.4">#Samples: 4</tspan></text></g>
<g id="node-12222222"><rect x="6008.5" y="964.6" width="163" height="77.8"/><text x="6090" y="987">node_id=12222222<tspan x="6090" dy="22.4">Lable: 1</tspan><tspan x="6090" dy="22.4">#Samples: 4</tspan></text></g>
<g id="node-111111111"><rect x="111.25" y="1122.3" width="171.5" height="55.4"/><text x="197" y="1145">node_id=111111111<tspan x="197" dy="22.3">x8 &gt; 0</tspan></text></g>
<g id="node-111111112"><rect x="307.25" y="1111.1" width="171.5" height="77.8"/><text x="393" y="1133.5">node_id=111111112<tspan x="393" dy="22.4">Lable: 0</tspan><tspan x="393" dy="22.4">#Samples: 2</tspan></text></g>
<g id="node-111122111"><rect x="561.25" y="1111.1" width="171.5" height="77.8"/><text x="647" y="1133.5">node_id=111122111<tspan x="647" dy="22.4">Lable: 1</tspan><tspan x="647" dy="22.4">#Samples: 1</tspan></text></g>
<g id="node-111122112"><rect x="757.25" y="1111.1" width="171.5" height="77.8"/><text x="843" y="1133.5">node_id=111122112<tspan x="843" dy="22.4">Lable: 0</tspan><tspan x="843" dy="22.4">#Samples: 3</tspan></text></g>
<g id="node-111122121"><rect x="953.25" y="1111.1" width="171.5" height="77.8"/><text x="1039" y="1133.5">node_id=111122121<tspan x="1039" dy="22.4">Lable: 0</tspan><tspan x="1039" dy="22.4">#Samples: 1</tspan></text></g>
<g id="node-111122122"><rect x="1149.25" y="1111.1" width="171.5" height="77.8"/><text x="1235" y="1133.5">node_id=111122122<tspan x="1235" dy="22.4">Lable: 1</tspan><tspan x="1235" dy="22.4">#Samples: 2</tspan></text></g>
<g id="node-111122211"><rect x="1345.25" y="1111.1" width="171.5" height="77.8"/><text x="1431" y="1133.5">node_id=111122211<tspan x="1431" dy="22.4">Lable: 0</tspan><tspan x="1431" dy="22.4">#Samples: 2</tspan></text></g>
<g id="node-111122212"><rect x="1541.25" y="1122.3" width="171.5" height="55.4"/><text x="1627" y="1145">node_id=111122212<tspan x="1627" dy="22.3">x7 &gt; 0</tspan></text></g>
<g id="node-111122221"><rect x="1736.25" y="1111.1" width="171.5" height="77.8"/><text x="1822" y="1133.5">node_id=111122221<tspan x="1822" dy="22.4">Lable: 1</tspan><tspan x="1822" dy="22.4">#Samples: 2</tspan></text></g>
<g id="node-111122222"><rect x="1932.25" y="1122.3" width="171.5" height="55.4"/><text x="2018" y="1145">node_id=111122222<tspan x="2018" dy="22.3">x7 &gt; 0</tspan></text></g>
<g id="node-111211111"><rect x="2128.25" y="1111.1" width="171.5" height="77.8"/><text x="2214" y="1133.5">node_id=111211111<tspan x="2214" dy="22.4">Lable: 1</tspan><tspan x="2214" dy="22.4">#Samples: 1</tspan></text></g>
<g id="node-111211112"><rect x="2324.25" y="1111.1" width="171.5" height="77.8"/><text x="2410" y="1133.5">node_id=111211112<tspan x="2410" dy="22.4">Lable: 0</tspan><tspan x="2410" dy="22.4">#Samples: 2</tspan></text></g>
<g id="node-112111211"><rect x="2667.25" y="1122.3" width="171.5" height="55.4"/><text x="2753" y="1145">node_id=112111211<tspan x="2753" dy="22.3">x2 &gt; 0</tspan></text></g>
<g id="node-112111212"><rect x="2863.25" y="1111.1" width="171.5" height="77.8"/><text x="2949" y="1133.5">node_id=112111212<tspan x="2949" dy="22.4">Lable: 1</tspan><tspan x="2949" dy="22.4">#Samples: 3</tspan></text></g>
<g id="node-112111221"><rect x="3059.25" y="1111.1" width="171.5" height="77.8"/><text x="3145" y="1133.5">node_id=112111221<tspan x="3145" dy="22.4">Lable: 0</tspan><tspan x="3145" dy="22.4">#Samples: 4</tspan></text></g>
<g id="node-112111222"><rect x="3254.25" y="1111.1" width="171.5" height="77.8"/><text x="3340" y="1133.5">node_id=112111222<tspan x="3340" dy="22.4">Lable: 1</tspan><tspan x="3340" dy="22.4">#Samples: 1</tspan></text></g>
<g id="node-112112121"><rect x="3451.25" y="1122.3" width="171.5" height="55.4"/><text x="3537" y="1145">node_id=112112121<tspan x="3537" dy="22.3">x4 &gt; 0</tspan></text></g>
<g id="node-112112122"><rect x="3646.25" y="1111.1" width="171.5" height="77.8"/><text x="3732" y="1133.5">node_id=112112122<tspan x="3732" dy="22.4">Lable: 0</tspan><tspan x="3732" dy="22.4">#Samples: 4</tspan></text></g>
<g id="node-121111111"><rect x="3947.25" y="1122.3" width="171.5" height="55.4"/><text x="4033" y="1145">node_id=121111111<tspan x="4033" dy="22.3">x3 &gt; 0</tspan></text></g>
<g id="node-121111112"><rect x="4154.25" y="1122.3" width="171.5" height="55.4"/><text x="4240" y="1145">node_id=121111112<tspan x="4240" dy="22.3">x8 &gt; 0</tspan></text></g>
<g id="node-121111121"><rect x="4627.25" y="1122.3" width="171.5" height="55.4"/><text x="4713" y="1145">node_id=121111121<tspan x="4713" dy="22.3">x3 &gt; 0</tspan></text></g>
<g id="node-121111122"><rect x="4966.25" y="1122.3" width="171.5" height="55.4"/><text x="5052" y="1145">node_id=121111122<tspan x="5052" dy="22.3">x8 &gt; 0</tspan></text></g>
<g id="node-1111111111"><rect x="5.5" y="1257.6" width="181" height="77.8"/><text x="96" y="1280">node_id=1111111111<tspan x="96" dy="22.4">Lable: 0</tspan><tspan x="96" dy="22.4">#Samples: 1</tspan></text></g>
<g id="node-1111111112"><rect x="208.5" y="1257.6" width="181" height="77.8"/><text x="299" y="1280">node_id=1111111112<tspan x="299" dy="22.4">Lable: 1</tspan><tspan x="299" dy="22.4">#Samples: 1</tspan></text></g>
<g id="node-1111222121"><rect x="1378.5" y="1257.6" width="181" height="77.8"/><text x="1469" y="1280">node_id=1111222121<tspan x="1469" dy="22.4">Lable: 0</tspan><tspan x="1469" dy="22.4">#Samples: 1</tspan></text></g>
<g id="node-1111222122"><rect x="1581.5" y="1257.6" width="181" height="77.8"/><text x="1672" y="1280">node_id=1111222122<tspan x="1672" dy="22.4">Lable: 1</tspan><tspan x="1672" dy="22.4">#Samples: 1</tspan></text></g>
<g id="node-1111222221"><rect x="1879.5" y="1257.6" width="181" height="77.8"/><text x="1970" y="1280">node_id=1111222221<tspan x="1970" dy="22.4">Lable: 0</tspan><tspan x="1970" dy="22.4">#Samples: 1</tspan></text></g>
<g id="node-1111222222"><rect x="2083.5" y="1257.6" width="181" height="77.8"/><text x="2174" y="1280">node_id=1111222222<tspan x="2174" dy="22.4">Lable: 1</tspan><tspan x="2174" dy="22.4">#Samples: 1</tspan></text></g>
<g id="node-1121112111"><rect x="2559.5" y="1257.6" width="181" height="77.8"/><text x="2650" y="1280">node_id=1121112111<tspan x="2650" dy="22.4">Lable: 1</tspan><tspan x="2650" dy="22.4">#Samples: 1</tspan></text></g>
<g id="node-1121112112"><rect x="2763.5" y="1257.6" width="181" height="77.8"/><text x="2854" y="1280">node_id=1121112112<tspan x="2854" dy="22.4">Lable: 0</tspan><tspan x="2854" dy="22.4">#Samples: 1</tspan></text></g>
<g id="node-1121121211"><rect x="3276.5" y="1257.6" width="181" height="77.8"/><text x="3367" y="1280">node_id=1121121211<tspan x="3367" dy="22.4">Lable: 1</tspan><tspan x="3367" dy="22.4">#Samples: 1</tspan></text></g>
<g id="node-1121121212"><rect x="3480.5" y="1268.8" width="181" height="55.4"/><text x="3571" y="1291.5">node_id=1121121212<tspan x="3571" dy="22.3">x6 &gt; 0</tspan></text></g>
<g id="node-1211111111"><rect x="3738.5" y="1257.6" width="181" height="77.8"/><text x="3829" y="1280">node_id=1211111111<tspan x="3829" dy="22.4">Lable: 0</tspan><tspan x="3829" dy="22.4">#Samples: 2</tspan></text></g>
<g id="node-1211111112"><rect x="3942.5" y="1268.8" width="181" height="55.4"/><text x="4033" y="1291.5">node_id=1211111112<tspan x="4033" dy="22.3">x8 &gt; 0</tspan></text></g>
<g id="node-1211111121"><rect x="4146.5" y="1257.6" width="181" height="77.8"/><text x="4237" y="1280">node_id=1211111121<tspan x="4237" dy="22.4">Lable: 0</tspan><tspan x="4237" dy="22.4">#Samples: 1</tspan></text></g>
<g id="node-1211111122"><rect x="4350.5" y="1257.6" width="181" height="77.8"/><text x="4441" y="1280">node_id=1211111122<tspan x="4441" dy="22.4">Lable: 1</tspan><tspan x="4441" dy="22.4">#Samples: 2</tspan></text></g>
<g id="node-1211111211"><rect x="4554.5" y="1257.6" width="181" height="77.8"/><text x="4645" y="1280">node_id=1211111211<tspan x="4645" dy="22.4">Lable: 1</tspan><tspan x="4645" dy="22.4">#Samples: 2</tspan></text></g>
<g id="node-1211111212"><rect x="4758.5" y="1268.8" width="181" height="55.4"/><text x="4849" y="1291.5">node_id=1211111212<tspan x="4849" dy="22.3">x8 &gt; 0</tspan></text></g>
<g id="node-1211111221"><rect x="4962.5" y="1257.6" width="181" height="77.8"/><text x="5053" y="1280">node_id=1211111221<tspan x="5053" dy="22.4">Lable: 1</tspan><tspan x="5053" dy="22.4">#Samples: 1</tspan></text></g>
<g id="node-1211111222"><rect x="5166.5" y="1257.6" width="181" height="77.8"/><text x="5257" y="1280">node_id=1211111222<tspan x="5257" dy="22.4">Lable: 0</tspan><tspan x="5257" dy="22.4">#Samples: 2</tspan></text></g>
<g id="node-11211212121"><rect x="3339" y="1404.1" width="190" height="77.8"/><text x="3434" y="1426.5">node_id=11211212121<tspan x="3434" dy="22.4">Lable: 1</tspan><tspan x="3434" dy="22.4">#Samples: 1</tspan></text></g>
<g id="node-11211212122"><rect x="3553" y="1404.1" width="190" height="77.8"/><text x="3648" y="1426.5">node_id=11211212122<tspan x="3648" dy="22.4">Lable: 0</tspan><tspan x="3648" dy="22.4">#Samples: 1</tspan></text></g>
<g id="node-12111111121"><rect x="3863" y="1404.1" width="190" height="77.8"/><text x="3958" y="1426.5">node_id=12111111121<tspan x="3958" dy="22.4">Lable: 1</tspan><tspan x="3958" dy="22.4">#Samples: 1</tspan></text></g>
<g id="node-12111111122"><rect x="4077" y="1404.1" width="190" height="77.8"/><text x="4172" y="1426.5">node_id=12111111122<tspan x="4172" dy="22.4">Lable: 0</tspan><tspan x="4172" dy="22.4">#Samples: 1</tspan></text></g>
<g id="node-12111112121"><rect x="4647" y="1404.1" width="190" height="77.8"/><text x="4742" y="1426.5">node_id=12111112121<tspan x="4742" dy="22.4">Lable: 0</tspan><tspan x="4742" dy="22.4">#Samples: 1</tspan></text></g>
<g id="node-12111112122"><rect x="4861" y="1404.1" width="190" height="77.8"/><text x="4956" y="1426.5">node_id=12111112122<tspan x="4956" dy="22.4">Lable: 1</tspan><tspan x="4956" dy="22.4">#Samples: 1</tspan></text></g>
</g>
</svg>
